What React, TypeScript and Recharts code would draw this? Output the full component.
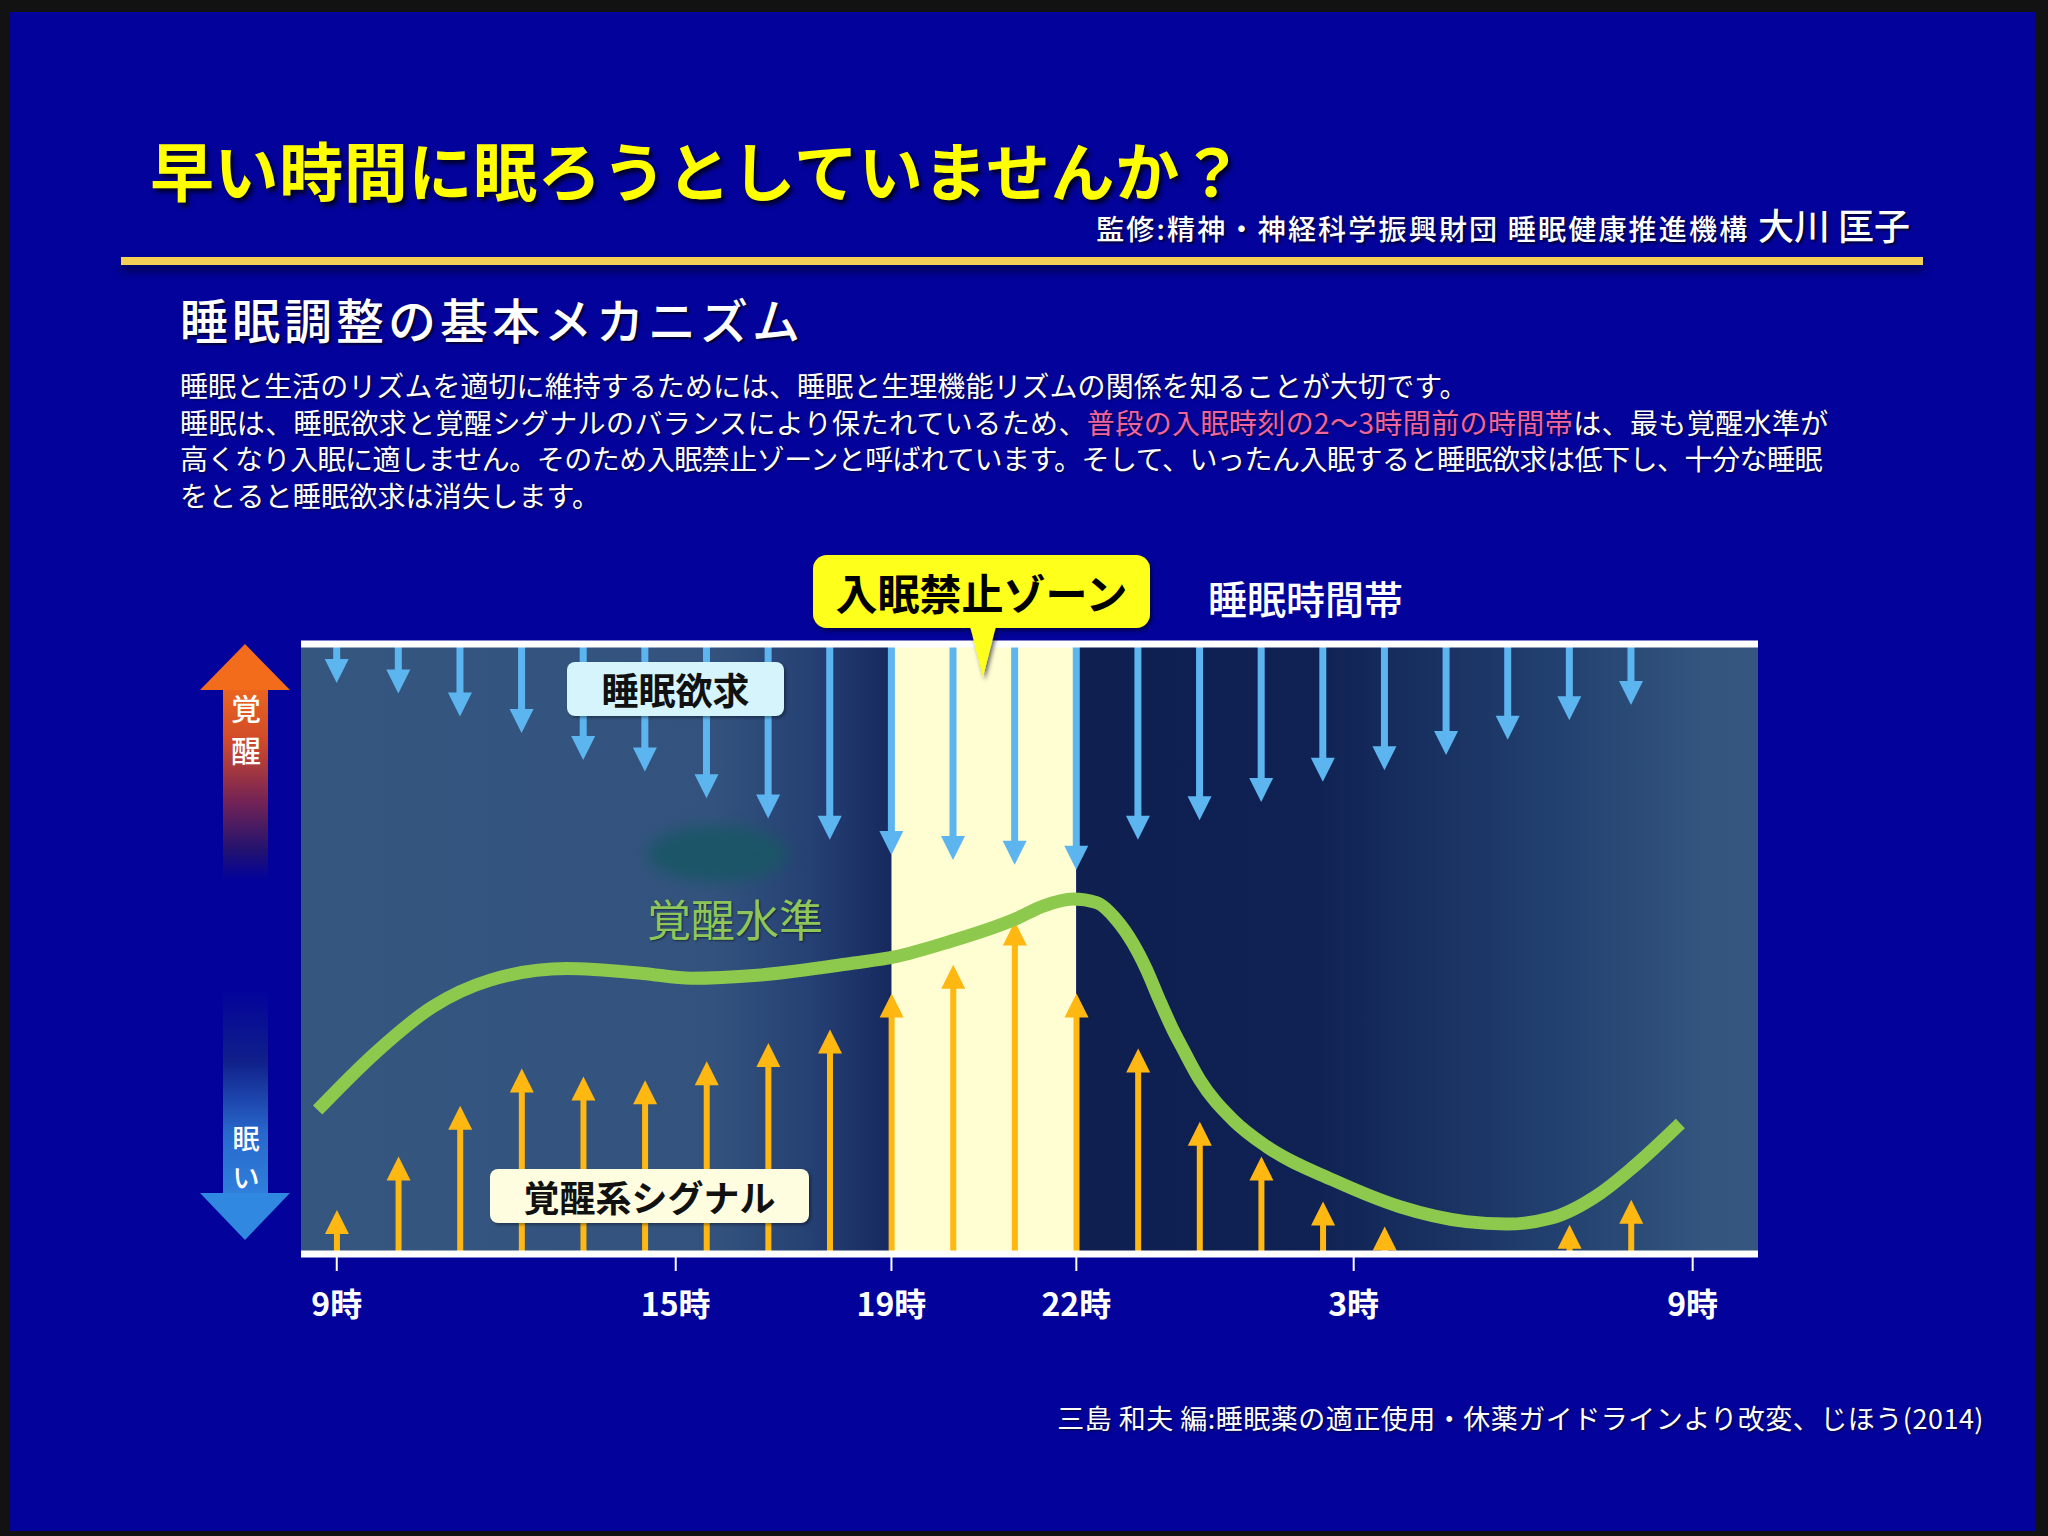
import React from "react";
import { ComposedChart, Bar, Line, XAxis, YAxis, ReferenceArea, ReferenceLine } from "recharts";

const FONT = '"Noto Sans CJK JP", "Noto Sans", sans-serif';

// one arrow per slot; 19時 sits on slot 9 and 22時 on slot 12
const slots = [0, 1, 2, 3, 4, 5, 6, 7, 8, 9, 10, 11, 12, 13, 14, 15, 16, 17, 18, 19, 20, 21];
// where the blue 睡眠欲求 arrows end (0 = bottom line, 100 = top line)
const sleepDrive = [93.6, 91.9, 88.1, 85.4, 81.0, 79.1, 74.7, 71.4, 67.9, 65.4, 64.6, 63.8, 63.0, 67.9, 71.1, 74.1, 77.4, 79.3, 81.8, 84.3, 87.5, 90.0];
// where the orange 覚醒系シグナル arrows end
const wakeSignal = [7.2, 16.0, 24.3, 30.4, 29.1, 28.5, 31.6, 34.6, 36.8, 42.7, 47.4, 54.5, 42.7, 33.7, 21.7, 16.0, 8.6, 4.5, null, null, 4.8, 8.9];

// 覚醒水準 curve
const curveSlots = [-0.31, 0.62, 1.55, 2.49, 3.73, 4.97, 5.75, 6.83, 8.39, 9.05, 9.94, 11.03, 11.45, 11.95, 12.33, 12.65, 12.92, 13.14, 13.35, 13.57, 13.73, 14.0, 14.54, 15.09, 16.17, 17.25, 18.33, 18.98, 19.69, 20.5, 21.04, 21.8];
const wakeLevel = [23.6, 32.9, 40.5, 44.9, 46.8, 46.0, 45.2, 45.7, 47.7, 48.7, 51.2, 55.0, 57.0, 58.2, 57.6, 54.8, 50.9, 46.6, 41.6, 36.7, 33.6, 28.6, 22.0, 17.6, 12.1, 7.75, 5.3, 4.9, 5.85, 9.95, 14.3, 21.4];

const tickSlots = [0, 5.5, 9, 12, 16.5, 22];
const tickLabels = ["9時", "15時", "19時", "22時", "3時", "9時"];

const arrowRows = slots.map((s, i) => ({ slot: s, sleep: [sleepDrive[i], 100], wake: wakeSignal[i] }));
const curveRows = curveSlots.map((s, i) => ({ slot: s, level: wakeLevel[i] }));

const SleepArrow = (props: any) => {
  const { x, y, width, height } = props;
  if (x == null || !height || height <= 0) return <g />;
  const cx = x + width / 2;
  const tip = y + height;
  return (
    <g>
      <line x1={cx} y1={y} x2={cx} y2={tip - 20} stroke="#5db5ef" strokeWidth={7} />
      <polygon points={`${cx - 12},${tip - 24} ${cx + 12},${tip - 24} ${cx},${tip}`} fill="#5db5ef" />
    </g>
  );
};

const WakeArrow = (props: any) => {
  const { x, y, width, height } = props;
  if (x == null || !height || height <= 0) return <g />;
  const cx = x + width / 2;
  const base = y + height;
  return (
    <g>
      <line x1={cx} y1={base} x2={cx} y2={y + 20} stroke="#ffb711" strokeWidth={6} />
      <polygon points={`${cx - 12},${y + 24} ${cx + 12},${y + 24} ${cx},${y}`} fill="#ffb711" />
    </g>
  );
};

const abs = (left: number, top: number, extra: React.CSSProperties = {}): React.CSSProperties => ({
  position: "absolute",
  left,
  top,
  whiteSpace: "nowrap",
  ...extra,
});

export default function App() {
  return (
    <div style={{ position: "absolute", left: 0, top: 0, width: 2048, height: 1536, background: "#121212", fontFamily: FONT, overflow: "hidden" }}>
      <div style={{ position: "absolute", left: 10, top: 12, width: 2026, height: 1519, background: "#03039b" }} />

      {/* header */}
      <div style={abs(150, 136, { fontSize: 64, lineHeight: "64px", letterSpacing: 0.6, fontWeight: 700, color: "#ffff00", textShadow: "3px 4px 4px rgba(0,0,30,0.9)" })}>
        早い時間に眠ろうとしていませんか？
      </div>
      <div style={{ position: "absolute", right: 138, top: 206, lineHeight: "36px", color: "#fff", whiteSpace: "nowrap", textShadow: "2px 2px 2px rgba(0,0,30,0.8)" }}>
        <span style={{ fontSize: 28, fontWeight: 500, letterSpacing: 2.2 }}>監修:精神・神経科学振興財団 睡眠健康推進機構 </span>
        <span style={{ fontSize: 36, fontWeight: 500 }}>大川 匡子</span>
      </div>
      <div style={{ position: "absolute", left: 121, top: 257, width: 1802, height: 8, background: "#f5cf55", boxShadow: "0 6px 8px rgba(0,0,40,0.7)" }} />

      <div style={abs(180, 294, { fontSize: 48, lineHeight: "48px", letterSpacing: 4, fontWeight: 500, color: "#fff", textShadow: "2px 2px 2px rgba(0,0,30,0.8)" })}>
        睡眠調整の基本メカニズム
      </div>
      <div style={abs(180, 367, { fontSize: 28, lineHeight: "36.5px", color: "#fff", textShadow: "1px 1px 2px rgba(0,0,30,0.8)" })}>
        <div style={{ letterSpacing: 0.05 }}>睡眠と生活のリズムを適切に維持するためには、睡眠と生理機能リズムの関係を知ることが大切です。</div>
        <div style={{ letterSpacing: 0.4 }}>
          睡眠は、睡眠欲求と覚醒シグナルのバランスにより保たれているため、
          <span style={{ color: "#f2649e" }}>普段の入眠時刻の2～3時間前の時間帯</span>は、最も覚醒水準が
        </div>
        <div style={{ letterSpacing: -0.5 }}>高くなり入眠に適しません。そのため入眠禁止ゾーンと呼ばれています。そして、いったん入眠すると睡眠欲求は低下し、十分な睡眠</div>
        <div style={{ letterSpacing: 0.2 }}>をとると睡眠欲求は消失します。</div>
      </div>

      {/* chart */}
      <div style={{ position: "absolute", left: 0, top: 0 }}>
        <ComposedChart width={2048} height={1536} data={arrowRows} margin={{ top: 644, right: 290, bottom: 222, left: 301 }}>
          <defs>
            <linearGradient id="bgLeft" x1="0" y1="0" x2="1" y2="0">
              <stop offset="0" stopColor="#34567f" />
              <stop offset="0.7" stopColor="#33537e" />
              <stop offset="0.88" stopColor="#243e72" />
              <stop offset="1" stopColor="#16295e" />
            </linearGradient>
            <linearGradient id="bgRight" x1="0" y1="0" x2="1" y2="0">
              <stop offset="0" stopColor="#0e1f50" />
              <stop offset="0.35" stopColor="#0f2253" />
              <stop offset="0.7" stopColor="#22406f" />
              <stop offset="0.92" stopColor="#33557e" />
              <stop offset="1" stopColor="#35577f" />
            </linearGradient>
          </defs>
          <XAxis
            xAxisId="a"
            type="number"
            dataKey="slot"
            domain={[-0.58, 23.06]}
            allowDataOverflow
            ticks={tickSlots}
            interval={0}
            tickFormatter={(v: number, i: number) => tickLabels[i]}
            height={60}
            axisLine={{ stroke: "#ffffff", strokeWidth: 7 }}
            tickLine={{ stroke: "#ffffff", strokeWidth: 2 }}
            tickSize={17}
            tickMargin={22}
            tick={{ fill: "#ffffff", fontSize: 32, fontWeight: 700, fontFamily: FONT }}
          />
          <XAxis xAxisId="b" type="number" dataKey="slot" domain={[-0.58, 23.06]} allowDataOverflow ticks={tickSlots} hide />
          <YAxis type="number" domain={[0, 100]} allowDataOverflow hide />
          <ReferenceArea xAxisId="a" x1={-0.58} x2={9} y1={0} y2={100} fill="url(#bgLeft)" fillOpacity={1} stroke="none" />
          <ReferenceArea xAxisId="a" x1={9} x2={12} y1={0} y2={100} fill="#fffdd2" fillOpacity={1} stroke="none" />
          <ReferenceArea xAxisId="a" x1={12} x2={23.06} y1={0} y2={100} fill="url(#bgRight)" fillOpacity={1} stroke="none" />
          <Bar xAxisId="a" dataKey="sleep" barSize={24} shape={SleepArrow} isAnimationActive={false} />
          <Bar xAxisId="b" dataKey="wake" barSize={24} shape={WakeArrow} isAnimationActive={false} />
          <Line xAxisId="a" data={curveRows} dataKey="level" type="monotone" stroke="#8dc94c" strokeWidth={13} dot={false} isAnimationActive={false} />
          <ReferenceLine xAxisId="a" y={100} stroke="#ffffff" strokeWidth={7} />
        </ComposedChart>
      </div>

      {/* decorations over the chart */}
      <div style={{ position: "absolute", left: 648, top: 826, width: 140, height: 56, background: "#1a5666", borderRadius: "50%", filter: "blur(8px)", opacity: 0.95 }} />
      <div style={abs(647, 896, { fontSize: 44, lineHeight: "44px", color: "#8fc65a", textShadow: "1px 1px 2px rgba(0,0,0,0.5)" })}>覚醒水準</div>

      <div style={{ position: "absolute", left: 567, top: 662, width: 217, height: 54, background: "#d5f4fb", borderRadius: 8, display: "flex", alignItems: "center", justifyContent: "center", fontSize: 37, lineHeight: 1, fontWeight: 700, color: "#111", boxShadow: "2px 2px 3px rgba(0,0,0,0.35)" }}>
        睡眠欲求
      </div>
      <div style={{ position: "absolute", left: 490, top: 1169, width: 319, height: 54, background: "#fffde0", borderRadius: 8, display: "flex", alignItems: "center", justifyContent: "center", fontSize: 36, lineHeight: 1, fontWeight: 700, color: "#111", boxShadow: "2px 2px 3px rgba(0,0,0,0.35)" }}>
        覚醒系シグナル
      </div>

      <svg width={2048} height={1536} style={{ position: "absolute", left: 0, top: 0, pointerEvents: "none" }}>
        <defs>
          <linearGradient id="upShaft" gradientUnits="userSpaceOnUse" x1="0" y1="680" x2="0" y2="880">
            <stop offset="0" stopColor="#f06a1d" />
            <stop offset="0.3" stopColor="#d04a2a" />
            <stop offset="0.6" stopColor="#762455" />
            <stop offset="0.85" stopColor="#22126f" />
            <stop offset="1" stopColor="#03039b" />
          </linearGradient>
          <linearGradient id="downShaft" gradientUnits="userSpaceOnUse" x1="0" y1="990" x2="0" y2="1195">
            <stop offset="0" stopColor="#03039b" />
            <stop offset="0.35" stopColor="#10208a" />
            <stop offset="0.7" stopColor="#2868cc" />
            <stop offset="1" stopColor="#2f80dc" />
          </linearGradient>
          <filter id="shadow" x="-10%" y="-10%" width="130%" height="140%">
            <feDropShadow dx="2" dy="3" stdDeviation="2" floodColor="#000022" floodOpacity="0.6" />
          </filter>
        </defs>
        <rect x={223} y={688} width={45} height={195} fill="url(#upShaft)" />
        <polygon points="200,690 245,644 290,690" fill="#f36c1c" />
        <rect x={223} y={990} width={45} height={204} fill="url(#downShaft)" />
        <polygon points="200,1193 290,1193 245,1240" fill="#3188e0" />
        <text x={246} y={707} textAnchor="middle" dominantBaseline="central" fill="#fff" fontSize={30} fontFamily={FONT} fontWeight={500}>覚</text>
        <text x={246} y={749} textAnchor="middle" dominantBaseline="central" fill="#fff" fontSize={30} fontFamily={FONT} fontWeight={500}>醒</text>
        <text x={246} y={1137} textAnchor="middle" dominantBaseline="central" fill="#fff" fontSize={27} fontFamily={FONT} fontWeight={500}>眠</text>
        <text x={246} y={1176} textAnchor="middle" dominantBaseline="central" fill="#fff" fontSize={27} fontFamily={FONT} fontWeight={500}>い</text>

        <g filter="url(#shadow)">
          <rect x={813} y={555} width={337} height={73} rx={14} fill="#ffff1a" />
          <polygon points="970,626 996,626 983,677" fill="#ffff1a" />
        </g>
      </svg>

      <div style={{ position: "absolute", left: 813, top: 555, width: 337, height: 73, display: "flex", alignItems: "center", justifyContent: "center", fontSize: 42, lineHeight: 1, fontWeight: 700, color: "#000" }}>
        入眠禁止ゾーン
      </div>
      <div style={abs(1208, 578, { fontSize: 39, lineHeight: "39px", fontWeight: 500, color: "#fff" })}>睡眠時間帯</div>

      <div style={{ position: "absolute", right: 64, top: 1404, fontSize: 27, lineHeight: "27px", letterSpacing: 0.5, color: "#fff", whiteSpace: "nowrap", textShadow: "1px 1px 2px rgba(0,0,30,0.8)" }}>
        三島 和夫 編:睡眠薬の適正使用・休薬ガイドラインより改変、じほう(2014)
      </div>
    </div>
  );
}
